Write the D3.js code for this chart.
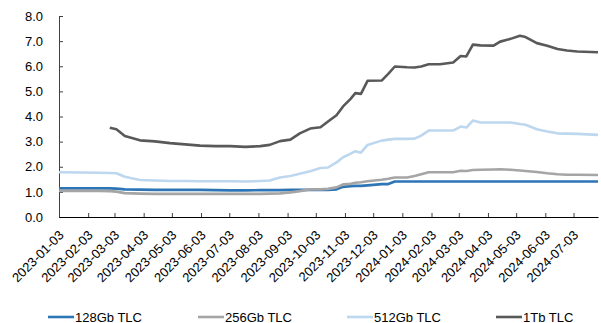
<!DOCTYPE html>
<html>
<head>
<meta charset="utf-8">
<script src="https://cdn.jsdelivr.net/npm/d3@7"></script>
<style>
  body { margin: 0; background: #fff; }
  text { font-family: "Liberation Sans", Arial, sans-serif; }
</style>
</head>
<body>
<div id="chart"></div>
<script>
// data
var dates = ["2023-01-03","2023-02-15","2023-02-26","2023-03-05","2023-03-14","2023-03-30","2023-04-15","2023-05-01",
  "2023-05-17","2023-06-02","2023-06-18","2023-07-04","2023-07-20","2023-08-05","2023-08-15","2023-08-26",
  "2023-09-06","2023-09-16","2023-09-27","2023-10-08","2023-10-16","2023-10-25","2023-11-01","2023-11-09",
  "2023-11-14","2023-11-20","2023-11-27","2023-12-12","2023-12-19","2023-12-26","2024-01-08","2024-01-16",
  "2024-01-23","2024-01-31","2024-02-12","2024-02-26","2024-03-05","2024-03-11","2024-03-18","2024-03-26",
  "2024-04-09","2024-04-16","2024-04-27","2024-05-07","2024-05-13","2024-05-25","2024-06-05","2024-06-16",
  "2024-06-26","2024-07-07","2024-07-29"];

var tlc128 = [1.14,1.14,1.14,1.13,1.10,1.09,1.08,1.08,1.08,1.08,1.07,1.06,1.06,1.07,1.07,1.07,
  1.08,1.08,1.08,1.08,1.08,1.10,1.20,1.23,1.24,1.24,1.26,1.31,1.31,1.41,1.41,1.41,
  1.41,1.41,1.41,1.41,1.41,1.41,1.41,1.41,1.41,1.41,1.41,1.41,1.41,1.41,1.41,1.41,1.41,1.41,1.41];

var tlc256 = [1.04,1.04,1.03,1.01,0.95,0.93,0.92,0.92,0.92,0.92,0.92,0.92,0.92,0.92,0.93,0.94,
  0.98,1.03,1.10,1.10,1.12,1.18,1.30,1.32,1.36,1.38,1.42,1.48,1.52,1.57,1.57,1.63,
  1.70,1.78,1.78,1.78,1.84,1.83,1.87,1.88,1.89,1.90,1.88,1.85,1.83,1.79,1.74,1.70,1.68,1.68,1.67];

var tlc512 = [1.78,1.76,1.75,1.74,1.60,1.47,1.45,1.43,1.43,1.42,1.42,1.42,1.41,1.43,1.45,1.57,
  1.63,1.72,1.82,1.95,1.97,2.17,2.38,2.52,2.62,2.56,2.87,3.04,3.08,3.11,3.11,3.12,
  3.24,3.44,3.44,3.44,3.60,3.56,3.84,3.76,3.76,3.76,3.76,3.70,3.67,3.49,3.40,3.33,3.32,3.31,3.27];

var tlc1tb = [null,null,3.55,3.49,3.22,3.05,3.01,2.94,2.89,2.84,2.82,2.82,2.79,2.82,2.87,3.02,
  3.08,3.33,3.52,3.57,3.80,4.05,4.40,4.70,4.93,4.90,5.42,5.43,5.70,5.99,5.96,5.95,
  5.99,6.08,6.08,6.15,6.41,6.39,6.86,6.83,6.82,6.98,7.09,7.21,7.16,6.92,6.82,6.69,6.63,6.59,6.56];

var seriesNames = ["128Gb TLC", "256Gb TLC", "512Gb TLC", "1Tb TLC"];
var seriesColors = ["#2e75b6", "#a5a5a5", "#bdd7ee", "#595959"];
var yTicks = [0, 1, 2, 3, 4, 5, 6, 7, 8];
var xTickLabels = ["2023-01-03","2023-02-03","2023-03-03","2023-04-03","2023-05-03","2023-06-03",
  "2023-07-03","2023-08-03","2023-09-03","2023-10-03","2023-11-03","2023-12-03","2024-01-03",
  "2024-02-03","2024-03-03","2024-04-03","2024-05-03","2024-06-03","2024-07-03"];

var W = 601, H = 323;
var margin = { top: 16, right: 3, bottom: 106, left: 59 },
    width = W - margin.left - margin.right,
    height = H - margin.top - margin.bottom;

var parse = d3.utcParse("%Y-%m-%d");

var svg = d3.select("#chart")
    .append("svg")
    .attr("width", W)
    .attr("height", H)
    .append("g")
    .attr("transform", "translate(" + margin.left + "," + margin.top + ")");

var x = d3.scaleUtc()
    .domain([parse(dates[0]), parse(dates[dates.length - 1])])
    .range([0, width]);

var y = d3.scaleLinear()
    .domain([0, 8])
    .range([height, 0]);

// y axis
var yAxis = svg.append("g")
    .call(d3.axisLeft(y).tickValues(yTicks).tickSizeInner(-4).tickSizeOuter(0)
        .tickFormat(d3.format(".1f")));
yAxis.select(".domain").attr("stroke", "#404040");
yAxis.selectAll(".tick line").attr("stroke", "#404040");
yAxis.selectAll("text")
    .attr("x", -16)
    .attr("font-size", 13)
    .attr("font-family", "Liberation Sans, Arial, sans-serif")
    .attr("fill", "#000");

// x axis
var xAxis = svg.append("g")
    .attr("transform", "translate(0," + height + ")")
    .call(d3.axisBottom(x).tickValues(xTickLabels.map(parse)).tickSizeInner(-4).tickSizeOuter(0)
        .tickFormat(d3.utcFormat("%Y-%m-%d")));
xAxis.select(".domain").attr("stroke", "#000");
xAxis.selectAll(".tick line").attr("stroke", "#404040");
xAxis.selectAll("text")
    .attr("font-size", 13)
    .attr("font-family", "Liberation Sans, Arial, sans-serif")
    .attr("fill", "#000")
    .attr("text-anchor", "end")
    .attr("x", 0).attr("y", 0).attr("dy", 0)
    .attr("transform", "translate(5,19) rotate(-45)");

// lines
var allSeries = [tlc128, tlc256, tlc512, tlc1tb];
var line = d3.line()
    .defined(function (d) { return d[1] != null; })
    .x(function (d) { return x(parse(d[0])); })
    .y(function (d) { return y(d[1]); });

allSeries.forEach(function (vals, i) {
    svg.append("path")
        .datum(dates.map(function (d, j) { return [d, vals[j]]; }))
        .attr("fill", "none")
        .attr("stroke", seriesColors[i])
        .attr("stroke-width", 2.6)
        .attr("stroke-linejoin", "round")
        .attr("d", line);
});

// legend
var legendX = [48, 198, 347, 496];
var legend = d3.select("svg").append("g").attr("transform", "translate(0,317)");
seriesNames.forEach(function (name, i) {
    legend.append("line")
        .attr("x1", legendX[i]).attr("x2", legendX[i] + 26)
        .attr("y1", 0).attr("y2", 0)
        .attr("stroke", seriesColors[i])
        .attr("stroke-width", 2.6);
    legend.append("text")
        .attr("x", legendX[i] + 27)
        .attr("y", 4.5)
        .attr("font-size", 13)
        .attr("fill", "#000")
        .text(name);
});
</script>
</body>
</html>
